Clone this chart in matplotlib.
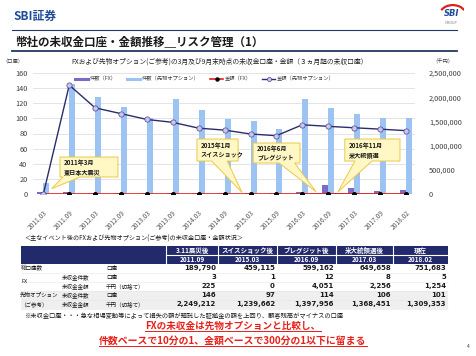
import numpy as np
import matplotlib
matplotlib.use('Agg')
from matplotlib import pyplot as plt
from matplotlib.patches import Rectangle, Polygon, Arc
from matplotlib.lines import Line2D
from matplotlib.ticker import FuncFormatter

plt.rcParams['font.family'] = ['Noto Sans CJK JP', 'DejaVu Sans']

# ---- chart data ----
dates = ['2011.03', '2011.09', '2012.03', '2012.09', '2013.03', '2013.09', '2014.03',
         '2014.09', '2015.03', '2015.09', '2016.03', '2016.09', '2017.03', '2017.09', '2018.02']
fx_count = [2, 3, 1, 1, 1, 1, 1, 1, 1, 1, 2, 12, 8, 4, 5]
fut_count = [14, 146, 128, 115, 101, 125, 111, 99, 97, 86, 126, 114, 106, 101, 101]
fx_amount = [0, 225, 50, 30, 20, 20, 10, 10, 0, 100, 200, 4051, 2256, 1500, 1254]
fut_amount = [0, 2249212, 1780000, 1660000, 1540000, 1480000, 1360000, 1320000,
              1239662, 1205000, 1430000, 1397956, 1368451, 1340000, 1309353]
series_names = ['件数（FX）', '件数（先物オプション）', '金額（FX）', '金額（先物オプション）']
event_labels = ['2011年3月\n東日本大震災', '2015年1月\nスイスショック',
                '2016年6月\nブレグジット', '2016年11月\n米大統領選']

# ---- table data ----
tbl_events = ['3.11震災後', 'スイスショック後', 'ブレグジット後', '米大統領選後', '現在']
tbl_dates = ['2011.09', '2015.03', '2016.09', '2017.03', '2018.02']
tbl_total = ['189,790', '459,115', '599,162', '649,658', '751,683']
tbl_fx_cnt = ['3', '1', '12', '8', '5']
tbl_fx_amt = ['225', '0', '4,051', '2,256', '1,254']
tbl_fut_cnt = ['146', '97', '114', '106', '101']
tbl_fut_amt = ['2,249,212', '1,239,662', '1,397,956', '1,368,451', '1,309,353']

W, H = 476, 356
NAVY = '#1F3864'
HEAD = '#232A6B'


def fx(px):
    return px / W


def fy(py):
    return 1 - py / H


fig = plt.figure(figsize=(W / 100, H / 100), dpi=100)

# ---- page header ----
fig.text(fx(13), fy(16.5), 'SBI証券', fontsize=8.5, fontweight='bold', color='#1F4E99', va='center')
fig.add_artist(Line2D([fx(12), fx(457)], [fy(29.5), fy(29.5)], color=NAVY, lw=0.8))
fig.text(fx(15), fy(41.5), '幣社の未収金口座・金額推移＿リスク管理（1）', fontsize=8.3,
         fontweight='bold', color='#1a1a1a', va='center')
fig.add_artist(Line2D([fx(12), fx(457)], [fy(51), fy(51)], color=NAVY, lw=1.3))

# logo
lax = fig.add_axes([fx(439), fy(26), fx(25), 22 / H])
lax.set_xlim(0, 1)
lax.set_ylim(0, 1)
lax.axis('off')
lax.add_patch(Arc((0.55, 0.55), 1.0, 0.8, theta1=20, theta2=160, color='#E0201C', lw=1.6))
lax.text(0.5, 0.55, 'SBI', fontsize=6, fontweight='bold', fontstyle='italic', color='#1F4E99',
         ha='center', va='center', family='DejaVu Sans')
lax.text(0.5, 0.15, 'GROUP', fontsize=2.5, color='#777777', ha='center', va='center',
         family='DejaVu Sans')

# ---- chart ----
ax = fig.add_axes([fx(33), fy(194), fx(415 - 33), (194 - 73) / H])
x = np.arange(len(dates))
w = 0.23
ax.bar(x - w / 2, fx_count, w, color='#7A6CC6', zorder=2)
ax.bar(x + w / 2, fut_count, w, color='#9DC3F2', zorder=2)
ax.set_ylim(0, 160)
ax.set_yticks(range(0, 161, 20))
ax.set_xlim(-0.4, 14.35)
ax.set_xticks(x)
ax.set_xticklabels(dates, rotation=45, ha='right', rotation_mode='anchor')
ax.grid(axis='y', color='#D9D9D9', lw=0.5)
ax.set_axisbelow(True)
ax.tick_params(axis='x', length=0, pad=11, labelsize=4.8, labelcolor='#595959')
ax.tick_params(axis='y', length=0, pad=4, labelsize=5.3, labelcolor='#404040')
for s in ax.spines.values():
    s.set_visible(False)

ax2 = ax.twinx()
ax2.plot(x, fx_amount, color='#E0201C', lw=1.2, marker='o', ms=2.6, mfc='black', mec='black', zorder=3)
ax2.plot(x, fut_amount, color='#2B2C6E', lw=1.0, marker='o', ms=3.8, mfc='#C9C5EC', mec='#4A4790',
         mew=0.5, zorder=4)
ax2.set_ylim(0, 2500000)
ax2.set_yticks(range(0, 2500001, 500000))
ax2.yaxis.set_major_formatter(FuncFormatter(lambda v, p: f'{int(v):,}'))
ax2.tick_params(axis='y', length=0, pad=10, labelsize=5.3, labelcolor='#404040')
for s in ax2.spines.values():
    s.set_visible(False)

fig.text(fx(2), fy(61.5), '（口座）', fontsize=3.8, ha='left', va='center', color='#404040')
fig.text(fx(443), fy(61.5), '（千円）', fontsize=3.8, ha='center', va='center', color='#404040')
fig.text(fx(220), fy(61.5),
         'FXおよび先物オプション(ご参考)の3月及び9月末時点の未収金口座・金額（３ヵ月超の未収口座）',
         fontsize=4.9, ha='center', va='center', color='#262626')

handles = [Line2D([], [], color='#7A6CC6', lw=2.2),
           Line2D([], [], color='#9DC3F2', lw=2.2),
           Line2D([], [], color='#E0201C', lw=1.2, marker='o', ms=2.2, mfc='black', mec='black'),
           Line2D([], [], color='#2B2C6E', lw=1.0, marker='o', ms=3, mfc='#C9C5EC', mec='#4A4790',
                  mew=0.5)]
fig.legend(handles, series_names, loc='center', bbox_to_anchor=(fx(205), fy(79)), ncol=4,
           frameon=False, fontsize=3.8, handlelength=2.4, columnspacing=2.0, handletextpad=0.4,
           labelcolor='#404040')

# callouts: box (x0, x1, y0, y1), wedge base (a, b), tip (tx, ty) in category / left-axis units
callouts = [((0.64, 2.88, 22.5, 48.9), (0.76, 1.42), (0.32, 7)),
            ((5.93, 7.52, 43.6, 72.7), (6.5, 7.1), (7.67, 2)),
            ((8.1, 9.91, 41.0, 67.4), (9.1, 9.7), (10.53, 3)),
            ((11.64, 13.77, 43.6, 72.7), (12.03, 12.69), (11.38, 3))]
for (bx, (a, b), (tx, ty)), label in zip(callouts, event_labels):
    x0, x1, y0, y1 = bx
    poly = Polygon([(x0, y1), (x1, y1), (x1, y0), (b, y0), (tx, ty), (a, y0), (x0, y0)],
                   closed=True, facecolor='#FFF8C4', edgecolor='#EBC84A', lw=0.7,
                   transform=ax.transData, clip_on=False, zorder=6)
    ax2.add_patch(poly)
    ax2.text(x0 + 0.15, (y0 + y1) / 2, label, transform=ax.transData, fontsize=4.4,
             fontweight='bold', va='center', ha='left', linespacing=1.5, zorder=7, color='#1a1a1a')

# ---- table ----
fig.text(fx(24), fy(239), '＜主なイベント後のFXおよび先物オプション(ご参考)の未収金口座・金額状況＞',
         fontsize=4.4, va='center', color='#1a1a1a')
col_edges = [166, 218, 277, 336, 393, 448]
row_edges = [264, 272.5, 281.5, 290.5, 299.5, 308.5]
fig.add_artist(Rectangle((fx(20.5), fy(263.5)), fx(448 - 20.5), 18 / H, transform=fig.transFigure,
                         facecolor=HEAD, edgecolor='none'))
fig.add_artist(Rectangle((fx(20.5), fy(row_edges[5])), fx(448 - 20.5), 18 / H,
                         transform=fig.transFigure, facecolor='#EFEFEF', edgecolor='none'))
for ce in col_edges[:-1]:
    fig.add_artist(Line2D([fx(ce), fx(ce)], [fy(245.5), fy(263.5)], color='white', lw=0.8))
fig.add_artist(Line2D([fx(166), fx(448)], [fy(254.5), fy(254.5)], color='white', lw=0.8))
for re in row_edges[1:]:
    fig.add_artist(Line2D([fx(20.5), fx(448)], [fy(re), fy(re)], color='#E6E6E6', lw=0.4))

for i in range(5):
    cx = (col_edges[i] + col_edges[i + 1]) / 2
    fig.text(fx(cx), fy(250), tbl_events[i], fontsize=4.7, fontweight='bold', color='white',
             ha='center', va='center')
    fig.text(fx(cx), fy(259), tbl_dates[i], fontsize=4.7, fontweight='bold', color='white',
             ha='center', va='center')
    rx = col_edges[i + 1] - 2
    for j, col in enumerate([tbl_total, tbl_fx_cnt, tbl_fx_amt, tbl_fut_cnt, tbl_fut_amt]):
        cy = (row_edges[j] + row_edges[j + 1]) / 2
        fig.text(fx(rx), fy(cy), col[i], fontsize=5.0, fontweight='bold', ha='right', va='center',
                 color='#1a1a1a', family='DejaVu Sans')

row_labels = [(21, 268.3, '総口座数'), (21, 281.5, 'FX'), (62, 277, '未収金件数'), (62, 286, '未収金金額'),
              (106, 268.3, '口座'), (106, 277, '口座'), (106, 286, '千円（切捨て）'),
              (20, 295, '先物オプション'), (20, 304, '（ご参考）'), (62, 295, '未収金件数'),
              (62, 304, '未収金金額'), (106, 295, '口座'), (106, 304, '千円（切捨て）')]
for lx, ly, s in row_labels:
    fig.text(fx(lx), fy(ly), s, fontsize=4.0, va='center', ha='left', color='#1a1a1a')

fig.text(fx(24), fy(316),
         '※未収金口座・・・急な相場変動等によって損失の額が預託した証拠金の額を上回り、顧客残高がマイナスの口座',
         fontsize=4.5, va='center', color='#1a1a1a')

# ---- conclusion ----
t1 = fig.text(fx(233), fy(326), 'FXの未収金は先物オプションと比較し、', fontsize=6.9,
              fontweight='bold', color='#E8201A', ha='center', va='center')
t2 = fig.text(fx(233), fy(341), '件数ベースで10分の1、金額ベースで300分の1以下に留まる', fontsize=7.1,
              fontweight='bold', color='#E8201A', ha='center', va='center')
fig.canvas.draw()
for t in (t1, t2):
    bb = t.get_window_extent()
    fig.add_artist(Line2D([bb.x0 / W, bb.x1 / W], [(bb.y0 + 0.5) / H, (bb.y0 + 0.5) / H],
                          color='#E8201A', lw=0.7))

fig.text(fx(468), fy(347), '4', fontsize=3.5, color='#404040', ha='center', va='center')

fig.savefig('out.png', dpi=100)
